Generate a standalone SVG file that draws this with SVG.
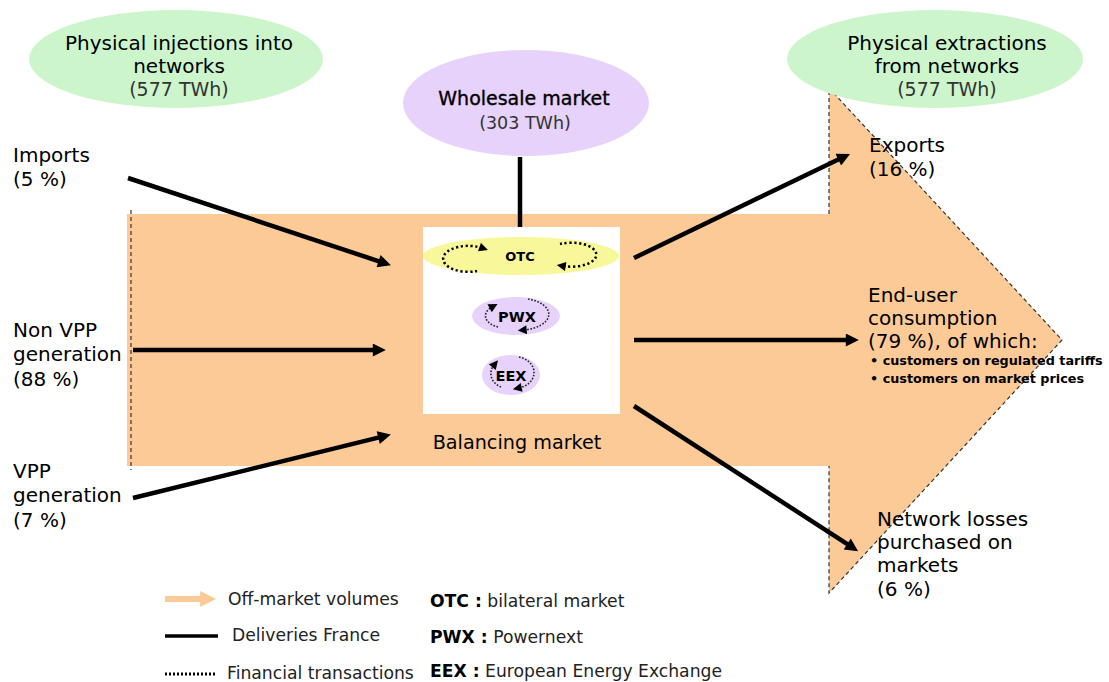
<svg xmlns="http://www.w3.org/2000/svg" width="1109" height="682" viewBox="0 0 1109 682">
<style>
text{font-family:"DejaVu Sans","Verdana",sans-serif;fill:#000}
.h{font-size:20px}
.sub{font-size:19px;fill:#333}
.lbl{font-size:20px}
.leg{font-size:17.2px;fill:#222}
.legb{font-size:17.2px;font-weight:bold}
.bul{font-size:12.8px;font-weight:bold}
.del{stroke:#000;stroke-width:4.5;fill:none}
.fin{stroke:#000;stroke-width:2.5;stroke-dasharray:2.2 2.6;fill:none}
.fin2{stroke:#222;stroke-width:1.6;stroke-dasharray:1.6 1.6;fill:none}
.dash{stroke:#333;stroke-width:1.2;stroke-dasharray:4 3;fill:none}
</style>
<defs>
<marker id="ah" viewBox="0 0 10 10" refX="4" refY="5" markerWidth="16" markerHeight="13" markerUnits="userSpaceOnUse" orient="auto"><path d="M0,0 L10,5 L0,10 z" fill="#000"/></marker>
<marker id="sa" viewBox="0 0 10 10" refX="3" refY="5" markerWidth="10" markerHeight="9" markerUnits="userSpaceOnUse" orient="auto"><path d="M0,0 L10,5 L0,10 z" fill="#000"/></marker>
<marker id="la" viewBox="0 0 10 10" refX="3" refY="5" markerWidth="16" markerHeight="16" markerUnits="userSpaceOnUse" orient="auto"><path d="M0,0 L10,5 L0,10 z" fill="#FCCA96"/></marker>
</defs>

<g id="big-arrow">
<path d="M127,214 L829,214 L829,88 L1062,340 L829,593 L829,466 L127,466 Z" fill="#FCCA96"/>
<line class="dash" x1="131" y1="210" x2="131" y2="470"/>
<polyline class="dash" points="829,214 829,88 1062,340 829,593 829,466"/>
</g>

<g id="injections">
<ellipse cx="176" cy="59" rx="147" ry="49" fill="#CCF5CC"/>
<text class="h" x="179" y="50" text-anchor="middle">Physical injections into</text>
<text class="h" x="179" y="73" text-anchor="middle">networks</text>
<text class="sub" x="179" y="96" text-anchor="middle">(577 TWh)</text>
</g>

<g id="extractions">
<ellipse cx="935" cy="59" rx="148" ry="49" fill="#CCF5CC"/>
<text class="h" x="947" y="50" text-anchor="middle">Physical extractions</text>
<text class="h" x="947" y="73" text-anchor="middle">from networks</text>
<text class="sub" x="947" y="96" text-anchor="middle">(577 TWh)</text>
</g>

<g id="wholesale">
<ellipse cx="526" cy="103" rx="123" ry="53" fill="#E6D2FA"/>
<text x="524" y="105" text-anchor="middle" style="font-size:19px;stroke:#000;stroke-width:0.35">Wholesale market</text>
<text x="525" y="129" text-anchor="middle" style="font-size:17.5px;fill:#333">(303 TWh)</text>
</g>

<g id="balancing">
<rect x="423" y="227" width="197" height="187" fill="#fff"/>
<text x="517" y="449" text-anchor="middle" style="font-size:19.2px">Balancing market</text>
</g>

<g id="otc">
<ellipse cx="521" cy="256" rx="98" ry="19" fill="#F8F89A"/>
<text x="520" y="261" text-anchor="middle" style="font-size:13px;font-weight:bold">OTC</text>
<path class="fin" d="M477,271 A25,13 0 1 1 482,248" marker-end="url(#sa)"/>
<path class="fin" d="M560,244 A25,12 0 1 1 563,266" marker-end="url(#sa)"/>
</g>

<g id="pwx">
<ellipse cx="516" cy="316" rx="44" ry="19" fill="#E6D2FA"/>
<text x="517" y="322" text-anchor="middle" style="font-size:14.5px;font-weight:bold">PWX</text>
<path class="fin2" d="M528,299 A30,16 0 0 1 524,330" marker-end="url(#sa)"/>
<path class="fin2" d="M498,327 A20,12 0 0 1 492,307" marker-end="url(#sa)"/>
</g>

<g id="eex">
<ellipse cx="511" cy="375" rx="29" ry="20" fill="#E6D2FA"/>
<text x="511" y="381" text-anchor="middle" style="font-size:14.5px;font-weight:bold">EEX</text>
<path class="fin2" d="M519,357 A20,16 0 0 1 519,388" marker-end="url(#sa)"/>
<path class="fin2" d="M501,387 A18,15 0 0 1 494,365" marker-end="url(#sa)"/>
</g>

<g id="imports"><text class="lbl" x="13" y="162">Imports</text><text class="lbl" x="13" y="186">(5 %)</text></g>
<g id="nonvpp"><text class="lbl" x="13" y="337">Non VPP</text><text class="lbl" x="13" y="361">generation</text><text class="lbl" x="13" y="386">(88 %)</text></g>
<g id="vpp"><text class="lbl" x="13" y="478">VPP</text><text class="lbl" x="13" y="502">generation</text><text class="lbl" x="13" y="527">(7 %)</text></g>
<g id="exports"><text class="lbl" x="869" y="152">Exports</text><text class="lbl" x="869" y="176">(16 %)</text></g>
<g id="enduser">
<text class="lbl" x="868" y="302">End-user</text>
<text class="lbl" x="868" y="325">consumption</text>
<text class="lbl" x="868" y="348">(79 %), of which:</text>
<text class="bul" x="870" y="365">• customers on regulated tariffs</text>
<text class="bul" x="870" y="383">• customers on market prices</text>
</g>
<g id="losses">
<text class="lbl" x="877" y="526">Network losses</text>
<text class="lbl" x="877" y="549">purchased on</text>
<text class="lbl" x="877" y="572">markets</text>
<text class="lbl" x="877" y="596">(6 %)</text>
</g>

<g id="connectors">
<line class="del" x1="520" y1="157" x2="520" y2="227"/>
<line class="del" x1="128" y1="178" x2="383.5" y2="262.8" marker-end="url(#ah)"/>
<line class="del" x1="133" y1="350" x2="378" y2="350" marker-end="url(#ah)"/>
<line class="del" x1="133" y1="498" x2="383.3" y2="436.4" marker-end="url(#ah)"/>
<line class="del" x1="634" y1="258" x2="843" y2="157.3" marker-end="url(#ah)"/>
<line class="del" x1="634" y1="340" x2="851" y2="340" marker-end="url(#ah)"/>
<line class="del" x1="634" y1="406" x2="851.6" y2="546.9" marker-end="url(#ah)"/>
</g>

<g id="legend">
<line x1="165" y1="599" x2="205" y2="599" stroke="#FCCA96" stroke-width="6" marker-end="url(#la)"/>
<text class="leg" x="228" y="605">Off-market volumes</text>
<line x1="165" y1="636" x2="218" y2="636" stroke="#000" stroke-width="3.5"/>
<text class="leg" x="232" y="641">Deliveries France</text>
<line x1="165" y1="674" x2="216" y2="674" stroke="#000" stroke-width="3" stroke-dasharray="2 2"/>
<text class="leg" x="227" y="679">Financial transactions</text>
<text x="430" y="607"><tspan class="legb">OTC :</tspan><tspan class="leg"> bilateral market</tspan></text>
<text x="430" y="643"><tspan class="legb">PWX :</tspan><tspan class="leg"> Powernext</tspan></text>
<text x="430" y="677"><tspan class="legb">EEX :</tspan><tspan class="leg"> European Energy Exchange</tspan></text>
</g>
</svg>
